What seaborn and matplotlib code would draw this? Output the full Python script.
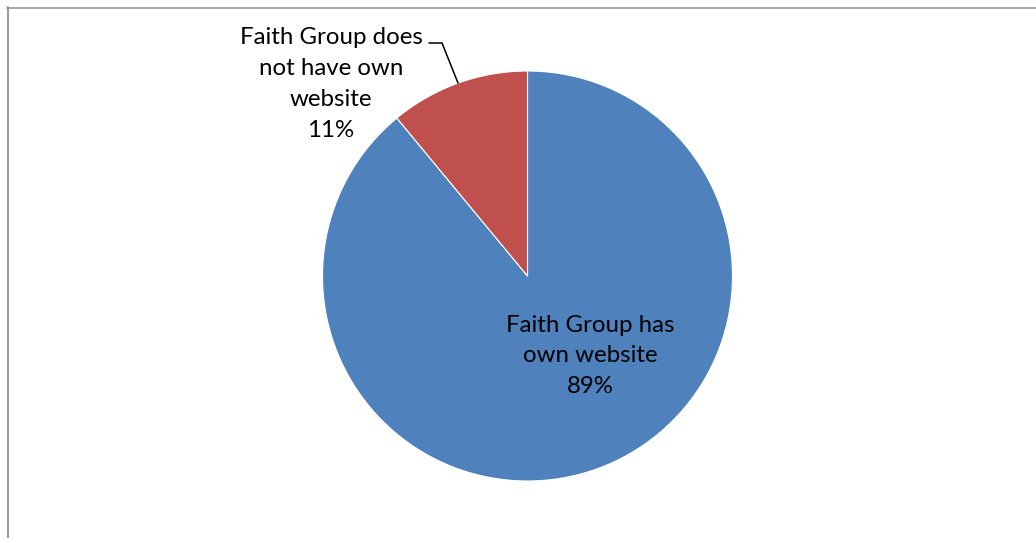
import numpy as np
import matplotlib
matplotlib.use("Agg")
import matplotlib.pyplot as plt
import seaborn as sns
from matplotlib.lines import Line2D

# Survey result: does the faith group run its own website?
categories = ["Faith Group has\nown website", "Faith Group does\nnot have own\nwebsite"]
shares = [89, 11]
slice_colors = ["#4F81BD", "#C0504D"]

sns.set_theme(style="white")
plt.rcParams["font.family"] = ["Lato", "DejaVu Sans"]

W, H = 1036, 538
fig = plt.figure(figsize=(W / 100, H / 100), dpi=100)
ax = fig.add_axes([0, 0, 1, 1])

center = (527.5, H - 276)
radius = 205

palette = sns.color_palette(slice_colors)
wedges, _ = ax.pie(
    shares,
    colors=palette,
    startangle=90,
    counterclock=False,
    center=center,
    radius=radius,
    wedgeprops=dict(edgecolor="white", linewidth=0.8),
    frame=True,
)
ax.set_xlim(0, W)
ax.set_ylim(0, H)
ax.set_aspect("equal")
ax.axis("off")

total = sum(shares)
fs = 17.3
ls = 1.58
# label inside the large slice
ax.text(590, H - 356, f"{categories[0]}\n{shares[0] / total:.0%}",
        ha="center", va="center", fontsize=fs, color="black", linespacing=ls)

# label outside the small slice with a leader line
ax.text(331, H - 84, f"{categories[1]}\n{shares[1] / total:.0%}",
        ha="center", va="center", fontsize=fs, color="black", linespacing=ls)

w = wedges[1]
mid = np.deg2rad((w.theta1 + w.theta2) / 2)
tip = (center[0] + radius * np.cos(mid), center[1] + radius * np.sin(mid))
ax.plot([429, 442, tip[0]], [H - 43, H - 43, tip[1]], color="black", lw=1.1,
        solid_joinstyle="miter")

# chart-area frame (top and left edges)
fig.add_artist(Line2D([7 / W, 1], [1 - 7.5 / H, 1 - 7.5 / H],
                      transform=fig.transFigure, color="#9a9a9a", lw=1.2))
fig.add_artist(Line2D([7.5 / W, 7.5 / W], [0, 1 - 7 / H],
                      transform=fig.transFigure, color="#888888", lw=1.2))

fig.savefig("out.png", dpi=100, facecolor="white")
